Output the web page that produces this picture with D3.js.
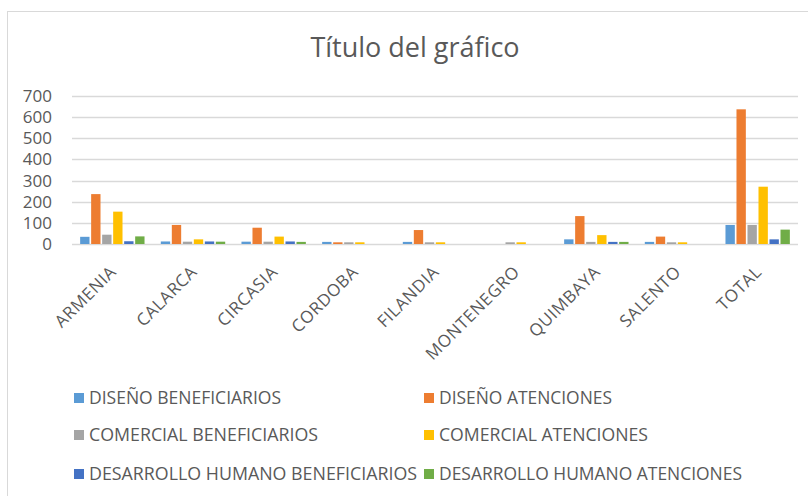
<!DOCTYPE html>
<meta charset="utf-8">
<head>
<script src="https://d3js.org/d3.v7.min.js"></script>
<style>
  body { margin: 0; background: #fff; font-family: "Open Sans", "Noto Sans", sans-serif; }
  svg text { fill: #595959; }
</style>
</head>
<body>
<svg></svg>
<script>
// categories and series
var municipios = ["ARMENIA", "CALARCA", "CIRCASIA", "CORDOBA", "FILANDIA", "MONTENEGRO", "QUIMBAYA", "SALENTO", "TOTAL"];
var series = ["DISEÑO BENEFICIARIOS", "DISEÑO ATENCIONES", "COMERCIAL BENEFICIARIOS",
              "COMERCIAL ATENCIONES", "DESARROLLO HUMANO BENEFICIARIOS", "DESARROLLO HUMANO ATENCIONES"];
var disenoBenef    = [34, 12, 11, 10, 10, 0, 22, 10, 90];
var disenoAten     = [236, 90, 77, 8, 66, 0, 132, 35, 637];
var comercialBenef = [44, 11, 11, 8, 8, 8, 10, 8, 90];
var comercialAten  = [153, 22, 35, 8, 8, 8, 42, 8, 271];
var dhBenef        = [13, 12, 12, 0, 0, 0, 10, 0, 22];
var dhAten         = [36, 11, 10, 0, 0, 0, 10, 0, 68];
var yTicks = [0, 100, 200, 300, 400, 500, 600, 700];
var colores = ["#5b9bd5", "#ed7d31", "#a5a5a5", "#ffc000", "#4472c4", "#70ad47"];

var valores = [disenoBenef, disenoAten, comercialBenef, comercialAten, dhBenef, dhAten];

var width = 808, height = 496;
var svg = d3.select("svg").attr("width", width).attr("height", height);

// chart frame
svg.append("rect")
    .attr("x", 7.5).attr("y", 11.5)
    .attr("width", width).attr("height", height)
    .attr("fill", "#fff").attr("stroke", "#d9d9d9");

svg.append("text")
    .attr("x", 415).attr("y", 57)
    .attr("text-anchor", "middle")
    .style("font-size", "27px")
    .text("Título del gráfico");

var x = d3.scaleBand().domain(municipios).range([72, 798]);
var xs = d3.scaleBand().domain(d3.range(series.length))
    .range([0, x.bandwidth()]).paddingInner(0.15).paddingOuter(0.74);
var y = d3.scaleLinear().domain([0, 700]).range([244, 96]);

// gridlines
svg.append("g").selectAll("line")
    .data(yTicks).enter().append("line")
    .attr("x1", 72).attr("x2", 798)
    .attr("y1", function (d) { return Math.round(y(d)) + 0.5; })
    .attr("y2", function (d) { return Math.round(y(d)) + 0.5; })
    .attr("stroke", "#d9d9d9").attr("stroke-width", 1.5);

// y axis labels
var yAxis = svg.append("g")
    .attr("transform", "translate(55,0)")
    .call(d3.axisLeft(y).tickValues(yTicks).tickSize(0).tickPadding(3));
yAxis.select(".domain").remove();
yAxis.selectAll("text").style("font-size", "17px").style("font-family", "Open Sans").attr("fill", "#595959");

// bars
var grupos = svg.append("g").selectAll("g")
    .data(municipios).enter().append("g")
    .attr("transform", function (d) { return "translate(" + x(d) + ",0)"; });

grupos.selectAll("rect")
    .data(function (d, i) { return valores.map(function (v, s) { return { s: s, v: v[i] }; }); })
    .enter().append("rect")
    .filter(function (d) { return d.v > 0; })
    .attr("x", function (d) { return xs(d.s); })
    .attr("width", xs.bandwidth())
    .attr("y", function (d) { return y(d.v); })
    .attr("height", function (d) { return y(0) - y(d.v); })
    .attr("fill", function (d) { return colores[d.s]; });

// x axis labels rotated
svg.append("g").selectAll("text")
    .data(municipios).enter().append("text")
    .attr("transform", function (d) {
        return "translate(" + (x(d) + x.bandwidth() / 2 + 5) + ",273)rotate(-45)";
    })
    .attr("text-anchor", "end")
    .style("font-size", "17px")
    .style("letter-spacing", "0.6px")
    .text(function (d) { return d; });

// legend
var legendAncho = [192, 173, 229, 209, 328, 303];
var legend = svg.append("g").selectAll("g")
    .data(series).enter().append("g")
    .attr("transform", function (d, i) {
        return "translate(" + (i % 2 ? 424 : 74) + "," + [398, 435, 474][Math.floor(i / 2)] + ")";
    });
legend.append("rect")
    .attr("x", 0).attr("y", -5).attr("width", 10).attr("height", 10)
    .attr("fill", function (d, i) { return colores[i]; });
legend.append("text")
    .attr("x", 15).attr("y", 0).attr("dy", "0.36em")
    .attr("textLength", function (d, i) { return legendAncho[i]; })
    .attr("lengthAdjust", "spacingAndGlyphs")
    .style("font-size", "18px")
    .text(function (d) { return d; });
</script>
</body>
</html>
